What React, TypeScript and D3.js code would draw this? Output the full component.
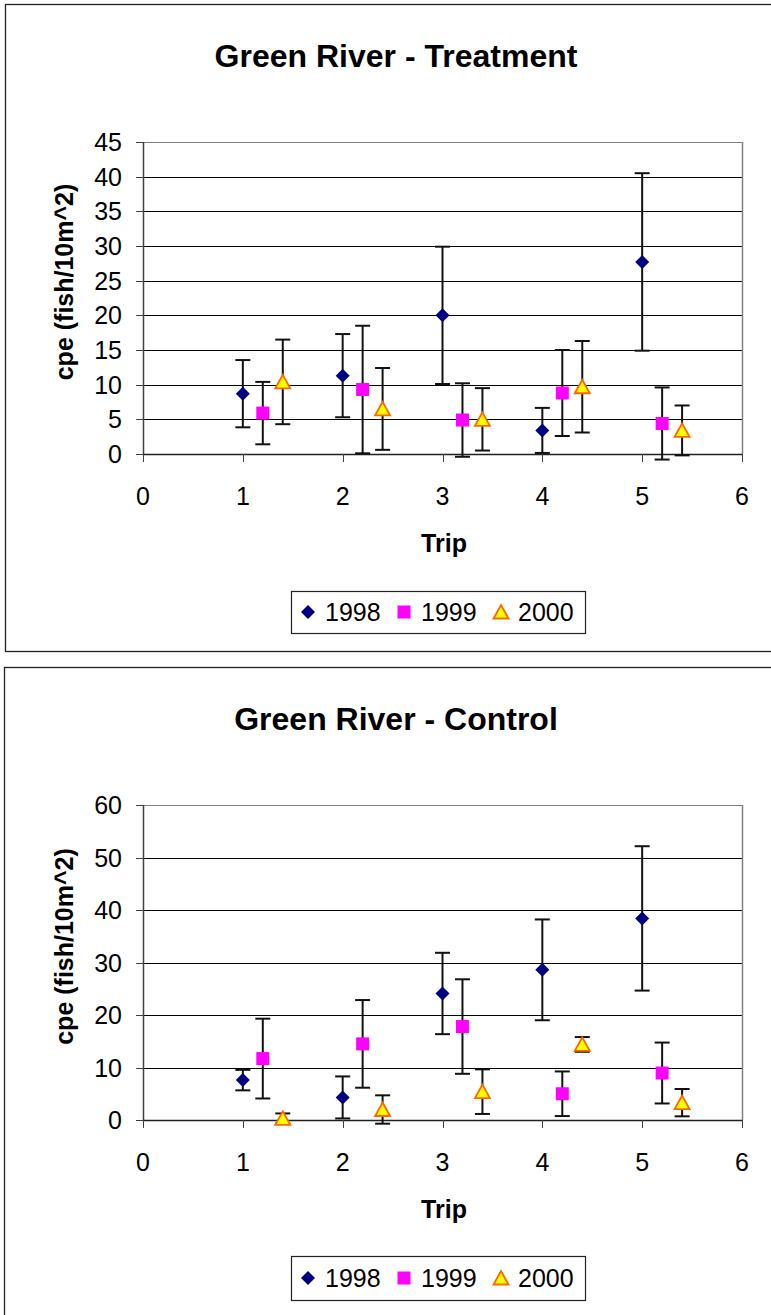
import React from 'react';
import * as d3 from 'd3';

// trip numbers and the per-year x offset Excel used to spread the points
const trips = [1, 2, 3, 4, 5];
const yearLabels = ['1998', '1999', '2000'];
const yearOffsets = [0, 0.2, 0.4];
const xTicks = [0, 1, 2, 3, 4, 5, 6];

// Green River - Treatment (cpe, and +/- error)
const treatment1998 = [8.7, 11.3, 20.0, 3.4, 27.7];
const treatment1998Err = [4.85, 6.0, 9.9, 3.25, 12.8];
const treatment1999 = [5.9, 9.3, 4.9, 8.8, 4.4];
const treatment1999Err = [4.5, 9.2, 5.3, 6.2, 5.2];
const treatment2000 = [10.4, 6.5, 5.0, 9.7, 3.4];
const treatment2000Err = [6.1, 5.9, 4.5, 6.6, 3.6];

// Green River - Control
const control1998 = [7.6, 4.3, 24.1, 28.6, 38.4];
const control1998Err = [1.95, 4.0, 7.75, 9.6, 13.75];
const control1999 = [11.7, 14.5, 17.8, 5.0, 8.95];
const control1999Err = [7.6, 8.35, 9.0, 4.25, 5.8];
const control2000 = [0.3, 2.0, 5.4, 14.4, 3.3];
const control2000Err = [0.95, 2.7, 4.25, 1.4, 2.6];

const treatmentTicks = [0, 5, 10, 15, 20, 25, 30, 35, 40, 45];
const controlTicks = [0, 10, 20, 30, 40, 50, 60];

const FONT = '"Liberation Sans", Arial, sans-serif';

type Series = { values: number[]; errors: number[] };

const Marker = ({ kind, x, y }: { kind: number; x: number; y: number }) => {
  if (kind === 0) {
    const r = 7;
    return (
      <path
        d={`M${x},${y - r}L${x + r},${y}L${x},${y + r}L${x - r},${y}Z`}
        fill="#000080"
      />
    );
  }
  if (kind === 1) {
    return <rect x={x - 6.5} y={y - 6.5} width={13} height={13} fill="#FF00FF" />;
  }
  return (
    <path
      d={`M${x},${y - 7}L${x + 7.5},${y + 6.5}L${x - 7.5},${y + 6.5}Z`}
      fill="#FFFF00"
      stroke="#FF6600"
      strokeWidth={1.8}
      strokeLinejoin="miter"
    />
  );
};

const Chart = ({
  title,
  frameTop,
  plotTop,
  plotBottom,
  yTicks,
  series,
  legendTop,
  legendHeight,
}: {
  title: string;
  frameTop: number;
  plotTop: number;
  plotBottom: number;
  yTicks: number[];
  series: Series[];
  legendTop: number;
  legendHeight: number;
}) => {
  const x = d3.scaleLinear().domain([0, 6]).range([143, 742]);
  const y = d3
    .scaleLinear()
    .domain([0, yTicks[yTicks.length - 1]])
    .range([plotBottom, plotTop]);

  const plotLeft = x(0);
  const plotRight = x(6);
  const cap = 7.5;
  const legendMid = legendTop + legendHeight / 2;

  return (
    <g>
      {/* chart frame */}
      <rect
        x={frameTop < 100 ? 5.5 : 4.5}
        y={frameTop + 0.5}
        width={768}
        height={frameTop < 100 ? 647 : 700}
        fill="#fff"
        stroke="#222"
        strokeWidth={1.3}
      />

      <text
        x={396}
        y={plotTop - 75}
        textAnchor="middle"
        fontFamily={FONT}
        fontWeight="bold"
        fontSize={32}
      >
        {title}
      </text>

      {/* gridlines */}
      {yTicks.map((t) => (
        <line
          key={'g' + t}
          x1={plotLeft}
          x2={plotRight}
          y1={Math.round(y(t)) + 0.5}
          y2={Math.round(y(t)) + 0.5}
          stroke={t === yTicks[yTicks.length - 1] ? '#808080' : '#000'}
          strokeWidth={1.2}
        />
      ))}
      {/* plot area border right */}
      <line
        x1={plotRight + 0.5}
        x2={plotRight + 0.5}
        y1={plotTop}
        y2={plotBottom}
        stroke="#808080"
        strokeWidth={1.5}
      />

      {/* y axis */}
      <line
        x1={plotLeft + 0.5}
        x2={plotLeft + 0.5}
        y1={plotTop}
        y2={plotBottom}
        stroke="#404040"
        strokeWidth={1.5}
      />
      {yTicks.map((t) => (
        <g key={'y' + t}>
          <line
            x1={plotLeft - 7}
            x2={plotLeft}
            y1={Math.round(y(t)) + 0.5}
            y2={Math.round(y(t)) + 0.5}
            stroke="#404040"
          />
          <text
            x={122}
            y={y(t) + 9}
            textAnchor="end"
            fontFamily={FONT}
            fontSize={25}
          >
            {t}
          </text>
        </g>
      ))}

      {/* x axis */}
      <line
        x1={plotLeft}
        x2={plotRight}
        y1={Math.round(plotBottom) + 0.5}
        y2={Math.round(plotBottom) + 0.5}
        stroke="#202020"
        strokeWidth={1.5}
      />
      {xTicks.map((t) => (
        <g key={'x' + t}>
          <line
            x1={Math.round(x(t)) + 0.5}
            x2={Math.round(x(t)) + 0.5}
            y1={plotBottom}
            y2={plotBottom + 8}
            stroke="#404040"
          />
          <text
            x={x(t)}
            y={plotBottom + 51}
            textAnchor="middle"
            fontFamily={FONT}
            fontSize={25}
          >
            {t}
          </text>
        </g>
      ))}

      <text
        x={444}
        y={plotBottom + 98}
        textAnchor="middle"
        fontFamily={FONT}
        fontWeight="bold"
        fontSize={25}
      >
        Trip
      </text>
      <text
        transform={`translate(73, ${(plotTop + plotBottom) / 2 - 16}) rotate(-90)`}
        textAnchor="middle"
        fontFamily={FONT}
        fontWeight="bold"
        fontSize={25}
      >
        cpe (fish/10m^2)
      </text>

      {/* error bars and markers */}
      {series.map((s, si) =>
        trips.map((trip, i) => {
          const cx = x(trip + yearOffsets[si]);
          const hi = y(s.values[i] + s.errors[i]);
          const lo = y(s.values[i] - s.errors[i]);
          return (
            <g key={`e${si}-${i}`} stroke="#111" strokeWidth={2}>
              <line x1={cx} x2={cx} y1={hi} y2={lo} />
              <line x1={cx - cap} x2={cx + cap} y1={hi} y2={hi} />
              <line x1={cx - cap} x2={cx + cap} y1={lo} y2={lo} />
            </g>
          );
        })
      )}
      {series.map((s, si) =>
        trips.map((trip, i) => (
          <Marker
            key={`m${si}-${i}`}
            kind={si}
            x={x(trip + yearOffsets[si])}
            y={y(s.values[i])}
          />
        ))
      )}

      {/* legend */}
      <rect
        x={291.5}
        y={legendTop + 0.5}
        width={294}
        height={legendHeight}
        fill="#fff"
        stroke="#222"
        strokeWidth={1.2}
      />
      {yearLabels.map((label, i) => {
        const mx = [308, 404, 501][i];
        return (
          <g key={'l' + label}>
            <Marker kind={i} x={mx} y={legendMid} />
            <text
              x={mx + 17}
              y={legendMid + 9}
              fontFamily={FONT}
              fontSize={25}
            >
              {label}
            </text>
          </g>
        );
      })}
    </g>
  );
};

export default function App() {
  const treatment: Series[] = [
    { values: treatment1998, errors: treatment1998Err },
    { values: treatment1999, errors: treatment1999Err },
    { values: treatment2000, errors: treatment2000Err },
  ];
  const control: Series[] = [
    { values: control1998, errors: control1998Err },
    { values: control1999, errors: control1999Err },
    { values: control2000, errors: control2000Err },
  ];

  return (
    <div style={{ position: 'absolute', left: 0, top: 0 }}>
      <svg width={771} height={1315} style={{ display: 'block', background: '#fff' }}>
        <Chart
          title="Green River - Treatment"
          frameTop={4}
          plotTop={142}
          plotBottom={454}
          yTicks={treatmentTicks}
          series={treatment}
          legendTop={591}
          legendHeight={42}
        />
        <Chart
          title="Green River - Control"
          frameTop={667}
          plotTop={805}
          plotBottom={1120}
          yTicks={controlTicks}
          series={control}
          legendTop={1256}
          legendHeight={44}
        />
      </svg>
    </div>
  );
}
